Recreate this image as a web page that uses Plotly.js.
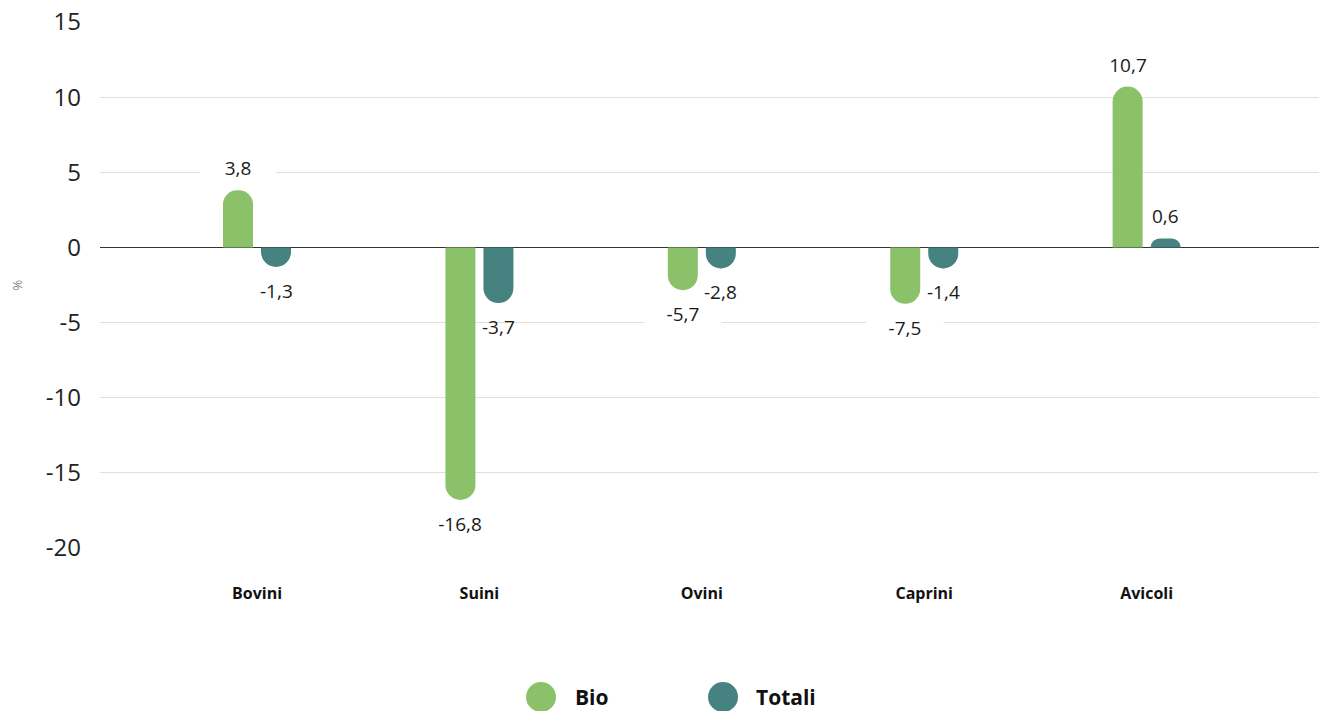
<!DOCTYPE html>
<html>
<head>
<meta charset="utf-8">
<script src="https://cdn.plot.ly/plotly-3.0.1.min.js"></script>
<style>html,body{margin:0;padding:0;background:#fff;}#chart{width:1319px;height:711px;}</style>
</head>
<body>
<div id="chart"></div>
<script>
const categories = ['Bovini', 'Suini', 'Ovini', 'Caprini', 'Avicoli'];
const bioValues = [3.8, -16.8, -2.85, -3.75, 10.7];
const totaliValues = [-1.3, -3.7, -1.4, -1.4, 0.6];
const bioLabels = ['3,8', '-16,8', '-5,7', '-7,5', '10,7'];
const totaliLabels = ['-1,3', '-3,7', '-2,8', '-1,4', '0,6'];
const yTickValues = [-20, -15, -10, -5, 0, 5, 10, 15];
const seriesNames = ['Bio', 'Totali'];

const GREEN = '#8bc169';
const TEAL = '#468280';
const FONT = 'Open Sans, Noto Sans, sans-serif';

const barW = 0.1349;
const traces = [
  {
    type: 'bar', name: seriesNames[0], x: categories, y: bioValues,
    width: barW, offset: -0.1529,
    marker: {color: GREEN, cornerradius: 15},
    showlegend: false, hoverinfo: 'skip'
  },
  {
    type: 'bar', name: seriesNames[1], x: categories, y: totaliValues,
    width: barW, offset: 0.018,
    marker: {color: TEAL, cornerradius: 15},
    showlegend: false, hoverinfo: 'skip'
  }
];

const annotations = [];
function addLabels(values, labels, xshift, boxed) {
  values.forEach((v, i) => {
    const a = {
      x: categories[i], y: v, xref: 'x', yref: 'y',
      text: labels[i], showarrow: false,
      xshift: xshift, yshift: v >= 0 ? 22 : -24,
      yanchor: 'middle', xanchor: 'center',
      font: {family: FONT, size: 19, color: '#1a1a1a'}
    };
    if (boxed) { a.bgcolor = '#ffffff'; a.width = 74; a.height = 24; }
    annotations.push(a);
  });
}
addLabels(bioValues, bioLabels, -19, true);
addLabels(totaliValues, totaliLabels, 19, false);

// custom legend
const legendY = -0.2833;
const shapes = [];
[[0.3618, GREEN], [0.5111, TEAL]].forEach(([px, col]) => {
  shapes.push({
    type: 'circle', xref: 'paper', yref: 'paper',
    xsizemode: 'pixel', ysizemode: 'pixel',
    xanchor: px, yanchor: legendY,
    x0: -15, x1: 15, y0: -15, y1: 15,
    fillcolor: col, line: {width: 0}
  });
});
annotations.push({
  xref: 'paper', yref: 'paper', x: 0.388, y: legendY, xanchor: 'left', yanchor: 'middle',
  text: '<b>' + seriesNames[0] + '</b>', showarrow: false,
  font: {family: FONT, size: 21, color: '#111'}
});
annotations.push({
  xref: 'paper', yref: 'paper', x: 0.5365, y: legendY, xanchor: 'left', yanchor: 'middle',
  text: '<b>' + seriesNames[1] + '</b>', showarrow: false,
  font: {family: FONT, size: 21, color: '#111'}
});

const layout = {
  width: 1319, height: 711,
  margin: {l: 100, r: 0, t: 22, b: 163},
  paper_bgcolor: '#ffffff', plot_bgcolor: '#ffffff',
  barmode: 'group',
  showlegend: false,
  xaxis: {
    type: 'category',
    range: [-0.706, 4.775],
    showgrid: false, zeroline: false, showline: false,
    ticks: '',
    ticklabelstandoff: 34,
    tickfont: {family: FONT, size: 16, color: '#111', weight: 'bold'},
    fixedrange: true
  },
  yaxis: {
    range: [-20, 15],
    tickvals: yTickValues,
    ticktext: yTickValues.map(String),
    showgrid: true, gridcolor: '#e4deda', gridwidth: 1,
    zeroline: true, zerolinecolor: '#333333', zerolinewidth: 1.5,
    showline: false, ticks: '',
    ticklabelstandoff: 18,
    tickfont: {family: FONT, size: 24, color: '#222'},
    title: {text: '%', standoff: 20, font: {family: FONT, size: 13, color: '#888'}},
    fixedrange: true
  },
  shapes: shapes,
  annotations: annotations
};

Plotly.newPlot('chart', traces, layout, {displayModeBar: false, staticPlot: true});
</script>
</body>
</html>
